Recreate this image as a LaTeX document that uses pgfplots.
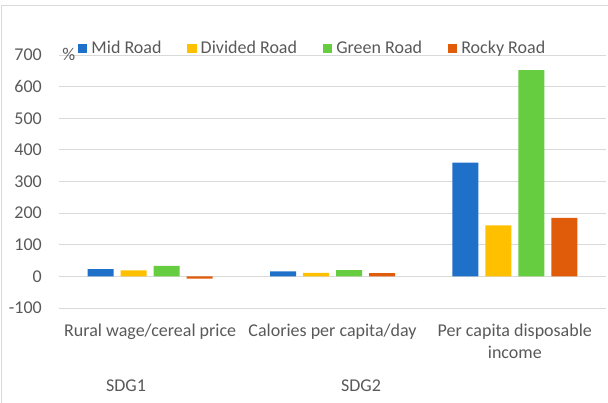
\documentclass[border=0pt]{standalone}
\usepackage{fontspec}
\setmainfont{Carlito}
\usepackage{pgfplots}
\pgfplotsset{compat=1.18}
\definecolor{cmid}{HTML}{1F70C8}
\definecolor{cdiv}{HTML}{FFC000}
\definecolor{cgreen}{HTML}{66CC40}
\definecolor{crocky}{HTML}{E05C0A}
\definecolor{ctext}{HTML}{595959}
\definecolor{cgrid}{HTML}{D9D9D9}
\newcommand{\myfont}{\fontsize{18}{22}\selectfont}
\begin{document}
\begin{tikzpicture}[font=\myfont]
\begin{axis}[
  at={(59pt,95pt)}, anchor=south west,
  scale only axis, width=547pt, height=253pt,
  ybar=7pt, bar width=26pt,
  xmin=-0.5, xmax=2.5, ymin=-100, ymax=700,
  xtick={0,1,2},
  xticklabels={Rural wage/cereal price, Calories per capita/day, Per capita disposable\\income},
  ytick={-100,0,100,200,300,400,500,600,700},
  ymajorgrids, major grid style={cgrid, line width=0.8pt},
  axis line style={draw=none}, tick style={draw=none},
  tick label style={font=\myfont, text=ctext},
  /pgf/number format/assume math mode=true,
  yticklabel style={anchor=east, inner sep=0pt, xshift=-17pt},
  xticklabel style={align=center, inner sep=0pt, yshift=-12pt},
  legend columns=4,
  legend style={at={(0.034,1.026)}, anchor=west, draw=none, fill=none, inner sep=0pt,
    font=\myfont, text=ctext, nodes={inner sep=1.5pt},
    /tikz/every even column/.append style={column sep=24pt},
    /tikz/every odd column/.append style={column sep=2.5pt}},
  legend image code/.code={\fill[#1,draw=none] (0pt,-4.85pt) rectangle (9.7pt,4.85pt);},
  clip=false,
]
\addplot[fill=cmid, draw=none] coordinates {(0,23) (1,16) (2,360)};
\addplot[fill=cdiv, draw=none] coordinates {(0,19) (1,11) (2,161)};
\addplot[fill=cgreen, draw=none] coordinates {(0,33) (1,20) (2,652)};
\addplot[fill=crocky, draw=none] coordinates {(0,-7) (1,10) (2,185)};
\legend{Mid Road, Divided Road, Green Road, Rocky Road}
\node[text=ctext, inner sep=0pt] at (axis description cs:0.018,1.004) {\%};
\end{axis}
\node[text=ctext] at (126pt,17pt) {SDG1};
\node[text=ctext] at (361pt,17pt) {SDG2};
\draw[cgrid, line width=1pt] (1pt,-5pt) -- (1pt,397pt) -- (615pt,397pt);
\pgfresetboundingbox
\path[use as bounding box] (0,0) rectangle (608pt,403pt);
\end{tikzpicture}
\end{document}
